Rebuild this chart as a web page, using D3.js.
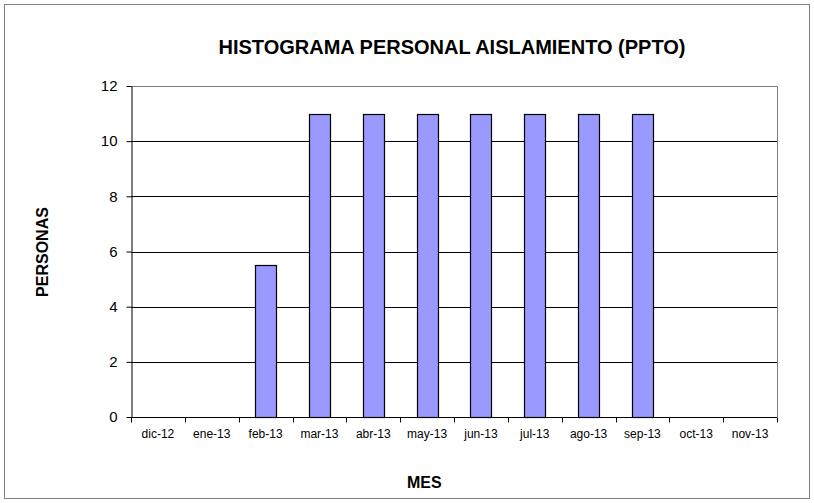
<!DOCTYPE html>
<html>
<head>
<meta charset="utf-8">
<script src="https://cdn.jsdelivr.net/npm/d3@7"></script>
<style>
  body { margin: 0; background: #fff; }
  svg { font-family: "Liberation Sans", Arial, sans-serif; }
</style>
</head>
<body>
<svg id="chart"></svg>
<script>
// Data
const months = ['dic-12', 'ene-13', 'feb-13', 'mar-13', 'abr-13', 'may-13',
                'jun-13', 'jul-13', 'ago-13', 'sep-13', 'oct-13', 'nov-13'];
const personas = [0, 0, 5.5, 11, 11, 11, 11, 11, 11, 11, 0, 0];
const yTicks = [0, 2, 4, 6, 8, 10, 12];

const width = 814, height = 503;
const margin = {top: 86, right: 37, bottom: 86, left: 131};
const innerW = width - margin.left - margin.right;
const innerH = height - margin.top - margin.bottom;

const svg = d3.select('#chart')
  .attr('width', width)
  .attr('height', height);

// outer chart border
svg.append('rect')
  .attr('x', 4.5).attr('y', 4.5)
  .attr('width', width - 9).attr('height', height - 9)
  .attr('fill', '#fff')
  .attr('stroke', '#808080')
  .attr('stroke-width', 1);

const x = d3.scaleBand()
  .domain(months)
  .range([0, innerW])
  .paddingInner(0.61)
  .paddingOuter(0.305);

const y = d3.scaleLinear()
  .domain([0, 12])
  .range([innerH, 0]);

const g = svg.append('g')
  .attr('transform', `translate(${margin.left},${margin.top})`);

// gridlines
g.selectAll('.grid')
  .data(yTicks.filter(d => d > 0 && d < 12))
  .join('line')
    .attr('class', 'grid')
    .attr('x1', 0).attr('x2', innerW)
    .attr('y1', d => Math.round(y(d)) + 0.5)
    .attr('y2', d => Math.round(y(d)) + 0.5)
    .attr('stroke', '#000')
    .attr('stroke-width', 1);

// plot area frame (top + right in gray)
g.append('path')
  .attr('d', `M0,${y(12) + 0.5}H${innerW + 0.5}V${innerH}`)
  .attr('fill', 'none')
  .attr('stroke', '#808080');

// bars
g.selectAll('.bar')
  .data(months.map((m, i) => ({month: m, value: personas[i]})).filter(d => d.value > 0))
  .join('rect')
    .attr('class', 'bar')
    .attr('x', d => Math.round(x(d.month)) + 0.5)
    .attr('y', d => Math.round(y(d.value)) + 0.5)
    .attr('width', x.bandwidth())
    .attr('height', d => innerH - Math.round(y(d.value)))
    .attr('fill', '#9999ff')
    .attr('stroke', '#000')
    .attr('stroke-width', 1.2);

// y axis
const yAxis = g.append('g')
  .attr('transform', 'translate(0.5,0)')
  .call(d3.axisLeft(y).tickValues(yTicks).tickSize(5).tickPadding(9).tickSizeOuter(0));
yAxis.select('.domain').attr('stroke', '#000');
yAxis.selectAll('.tick line').attr('stroke', '#000');
yAxis.selectAll('.tick text')
  .attr('font-size', 15)
  .attr('fill', '#000')
  .attr('font-family', '"Liberation Sans", Arial, sans-serif');

// x axis with ticks between categories
const xAxisG = g.append('g')
  .attr('transform', `translate(0,${innerH + 0.5})`);
xAxisG.append('line')
  .attr('x1', 0).attr('x2', innerW)
  .attr('stroke', '#000');
const step = x.step();
xAxisG.selectAll('.xtick')
  .data(d3.range(months.length + 1))
  .join('line')
    .attr('class', 'xtick')
    .attr('x1', i => Math.round(i * step) + 0.5)
    .attr('x2', i => Math.round(i * step) + 0.5)
    .attr('y1', 0).attr('y2', 5)
    .attr('stroke', '#000');
xAxisG.selectAll('.xlabel')
  .data(months)
  .join('text')
    .attr('class', 'xlabel')
    .attr('x', d => x(d) + x.bandwidth() / 2)
    .attr('y', 20)
    .attr('text-anchor', 'middle')
    .attr('font-size', 12)
    .text(d => d);

// title
svg.append('text')
  .attr('x', 452)
  .attr('y', 54)
  .attr('text-anchor', 'middle')
  .attr('font-size', 20)
  .attr('font-weight', 'bold')
  .text('HISTOGRAMA PERSONAL AISLAMIENTO (PPTO)');

// axis titles
svg.append('text')
  .attr('x', 407)
  .attr('y', 488)
  .attr('font-size', 16)
  .attr('font-weight', 'bold')
  .text('MES');

svg.append('text')
  .attr('transform', `translate(48,252) rotate(-90)`)
  .attr('text-anchor', 'middle')
  .attr('font-size', 16)
  .attr('font-weight', 'bold')
  .text('PERSONAS');
</script>
</body>
</html>
